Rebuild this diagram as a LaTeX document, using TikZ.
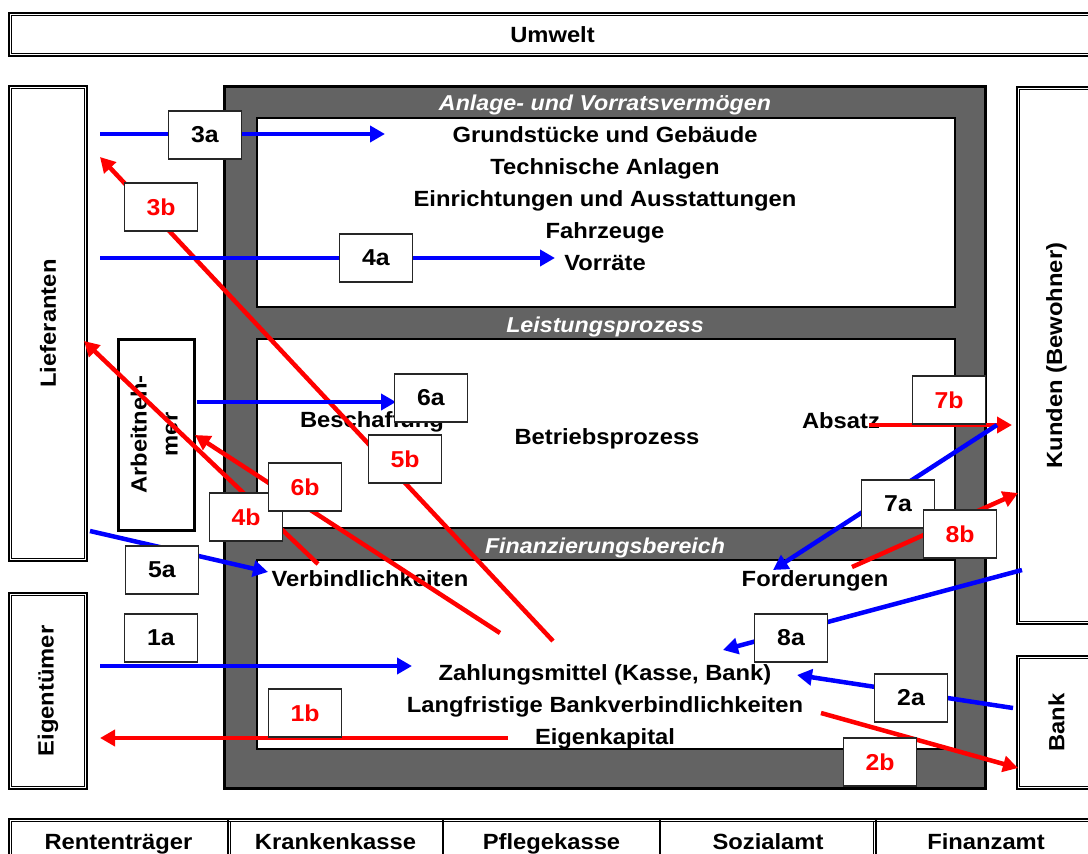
\documentclass[tikz,border=0pt]{standalone}
\usepackage{graphicx}
\usepackage{fontspec}
\setmainfont{Liberation Sans}[FakeStretch=1.08]
\usetikzlibrary{arrows.meta}

\definecolor{flowblue}{RGB}{0,0,255}
\definecolor{flowred}{RGB}{255,0,0}
\definecolor{framegray}{RGB}{99,99,99}

% thin inner line of a double-ruled box
\newcommand\innerrule[1]{%
  \draw[line width=1pt] ([shift={(3.5,3.5)}]#1.north west) rectangle ([shift={(-3.5,-3.5)}]#1.south east);}

\tikzset{
  big/.style={font=\fontsize{22}{32}\selectfont\bfseries},
  ent/.style={draw, line width=2.5pt, fill=white, inner sep=0pt, big},
  cell/.style={ent, minimum height=51, text height=16pt, text depth=6pt},
  tag/.style={draw=black!85, line width=1.3pt, fill=white, minimum width=73pt,
              minimum height=48pt, inner sep=0pt, font=\fontsize{23}{23}\selectfont\bfseries},
  tagb/.style={tag, text=flowred},
  flow/.style={line width=4.5pt, -{Triangle[length=15pt,width=16pt]}},
  inflow/.style={flow, draw=flowblue},
  outflow/.style={flow, draw=flowred},
  item/.style={big, anchor=base, inner sep=0pt},
  band/.style={font=\fontsize{21.5}{21.5}\selectfont\bfseries\itshape, text=white,
               anchor=base, inner sep=0pt},
}

\begin{document}
\begin{tikzpicture}[x=1pt, y=-1pt]
\useasboundingbox (0,0) rectangle (1088,854);
\clip (0,0) rectangle (1088,854);

% ---- company frame with its three areas ----
\fill[framegray] (224.5,86.5) rectangle (985.5,788.5);
\draw[line width=3pt] (224.5,86.5) rectangle (985.5,788.5);
\draw[line width=1.5pt, fill=white] (257,118) rectangle (955,307);
\draw[line width=1.5pt, fill=white] (257,339) rectangle (955,528);
\draw[line width=1.5pt, fill=white] (257,560) rectangle (955,749);

\node[band] (hAnl) at (605,110) {Anlage- und Vorratsvermögen};
\node[band] (hLei) at (605,332) {Leistungsprozess};
\node[band] (hFin) at (605,553) {Finanzierungsbereich};

% assets
\node[item] (grund) at (605,142.5) {Grundstücke und Gebäude};
\node[item] (techn) at (605,174.5) {Technische Anlagen};
\node[item] (einr)  at (605,206.5) {Einrichtungen und Ausstattungen};
\node[item] (fahrz) at (605,238.5) {Fahrzeuge};
\node[item] (vorr)  at (605,270)   {Vorräte};

% operating process
\node[item] (besch) at (372,427) {Beschaffung};
\node[item] (betr)  at (607,444) {Betriebsprozess};
\node[item] (absatz) at (841,428) {Absatz};

% financing
\node[item] (verb)  at (370,586) {Verbindlichkeiten};
\node[item] (ford)  at (815,586) {Forderungen};
\node[item] (zahl)  at (605,680) {Zahlungsmittel (Kasse, Bank)};
\node[item] (lbank) at (605,712) {Langfristige Bankverbindlichkeiten};
\node[item] (ek)    at (605,744) {Eigenkapital};

% ---- surrounding parties ----
\node[ent, minimum width=1087, minimum height=43] (umwelt) at (552.5,34.5) {Umwelt};
\innerrule{umwelt}
\node[ent, minimum width=78, minimum height=475] (lief) at (48,323.5) {\rotatebox{90}{Lieferanten}};
\innerrule{lief}
\node[ent, minimum width=78, minimum height=196] (eigen) at (48,691) {\rotatebox{90}{Eigentümer}};
\innerrule{eigen}
\node[ent, line width=3pt, minimum width=76, minimum height=191] (arbn) at (156,434.5)
  {\rotatebox{90}{\fontsize{22}{31}\selectfont\begin{tabular}{@{}c@{}}Arbeitneh-\\mer\end{tabular}}};
\node[ent, minimum width=79, minimum height=537] (kunden) at (1056.5,355.5) {\rotatebox{90}{Kunden (Bewohner)}};
\innerrule{kunden}
\node[ent, minimum width=79, minimum height=133] (bank) at (1056.5,722.5) {\rotatebox{90}{Bank}};
\innerrule{bank}

% public bodies
\node[cell, minimum width=219] (rent)  at (118.5,844.5) {Rententräger};
\node[cell, minimum width=215] (krank) at (335.5,844.5) {Krankenkasse};
\node[cell, minimum width=217] (pfleg) at (551.5,844.5) {Pflegekasse};
\node[cell, minimum width=216] (sozi)  at (768,844.5)   {Sozialamt};
\node[cell, minimum width=220] (finz)  at (986,844.5)   {Finanzamt};
\draw[line width=1pt] ([shift={(3.5,3.5)}]rent.north west) -- ([shift={(-3.5,3.5)}]finz.north east);
\draw[line width=1pt] ([shift={(3.5,3.5)}]rent.north west) -- ([shift={(3.5,0)}]rent.south west);
\draw[line width=1pt] ([shift={(3.5,3.5)}]krank.north west) -- ([shift={(3.5,0)}]krank.south west);
\draw[line width=1pt] ([shift={(-3.5,3.5)}]sozi.north east) -- ([shift={(-3.5,0)}]sozi.south east);

% ---- flow end points ----
\coordinate (s1a) at (100,666);  \coordinate (e1a) at (412,666);
\coordinate (s1b) at (508,738);  \coordinate (e1b) at (100,738);
\coordinate (s2a) at (1013,708); \coordinate (e2a) at (797,675);
\coordinate (s2b) at (821,713);  \coordinate (e2b) at (1018,768);
\coordinate (s3a) at (100,134);  \coordinate (e3a) at (385,134);
\coordinate (s3b) at (553,641);  \coordinate (e3b) at (100,157);
\coordinate (s4a) at (100,258);  \coordinate (e4a) at (555,258);
\coordinate (s4b) at (318,564);  \coordinate (e4b) at (84,341);
\coordinate (s5a) at (90,531);   \coordinate (e5a) at (268,572);
\coordinate (s6a) at (197,402);  \coordinate (e6a) at (396,402);
\coordinate (s6b) at (500,633);  \coordinate (e6b) at (195,435);
\coordinate (s7a) at (997,425);  \coordinate (e7a) at (773,570);
\coordinate (s7b) at (869,425);  \coordinate (e7b) at (1012,425);
\coordinate (s8a) at (1022,570); \coordinate (e8a) at (723,650);
\coordinate (s8b) at (852,567);  \coordinate (e8b) at (1018,493);

% ---- flows ----
\draw[inflow]  (s3a) -- (e3a);
\draw[outflow] (s3b) -- (e3b);
\draw[inflow]  (s4a) -- (e4a);
\draw[outflow] (s4b) -- (e4b);
\draw[inflow]  (s5a) -- (e5a);
\draw[inflow]  (s6a) -- (e6a);
\draw[outflow] (s6b) -- (e6b);
\draw[inflow]  (s1a) -- (e1a);
\draw[outflow] (s1b) -- (e1b);
\draw[outflow] (s7b) -- (e7b);
\draw[inflow]  (s7a) -- (e7a);
\draw[outflow] (s8b) -- (e8b);
\draw[inflow]  (s8a) -- (e8a);
\draw[inflow]  (s2a) -- (e2a);
\draw[outflow] (s2b) -- (e2b);

% ---- flow tags ----
\node[tag]  (t3a) at (205,135) {3a};
\node[tagb] (t3b) at (161,207) {3b};
\node[tag]  (t4a) at (376,258) {4a};
\node[tag]  (t6a) at (431,398) {6a};
\node[tagb] (t5b) at (405,459) {5b};
\node[tagb] (t4b) at (246,517) {4b};
\node[tagb] (t6b) at (305,487) {6b};
\node[tag]  (t5a) at (162,570) {5a};
\node[tag]  (t1a) at (161,638) {1a};
\node[tagb] (t1b) at (305,713) {1b};
\node[tagb] (t7b) at (949,400) {7b};
\node[tag]  (t7a) at (898,504) {7a};
\node[tagb] (t8b) at (960,534) {8b};
\node[tag]  (t8a) at (791,638) {8a};
\node[tag]  (t2a) at (911,698) {2a};
\node[tagb] (t2b) at (880,762) {2b};
\end{tikzpicture}
\end{document}
